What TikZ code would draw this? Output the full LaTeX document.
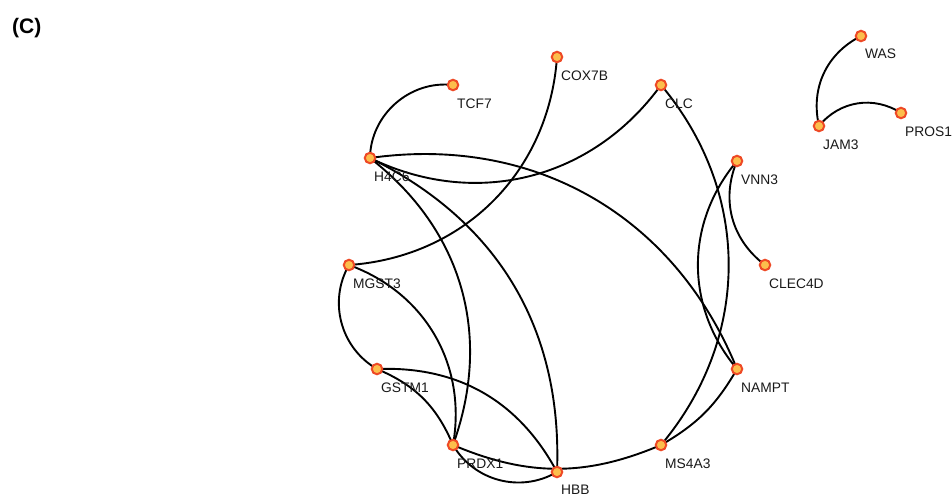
\documentclass[tikz,border=0pt]{standalone}
\usepackage{fontspec}
\setmainfont{Liberation Sans}
\usetikzlibrary{calc,backgrounds}
\definecolor{nodefill}{HTML}{FCBE4C}
\definecolor{noderim}{HTML}{EE4A26}
\tikzset{
  gene/.style={circle, fill=nodefill, draw=noderim, line width=2pt, minimum size=10.5pt, inner sep=0pt},
  lab/.style={anchor=base west, inner sep=0pt, font=\fontsize{13.8}{16}\selectfont, text=black!90},
  edge/.style={draw=black, line width=1.9pt},
}
\begin{document}
\begin{tikzpicture}[x=1pt,y=-1pt]
\useasboundingbox (0,0) rectangle (952,495);
\node[anchor=base west, inner sep=0pt, font=\fontsize{21}{24}\selectfont\bfseries] (title) at (12,34) {(C)};
% gene nodes
\node[gene] (TCF7) at (453,85) {};
\node[gene] (COX7B) at (557,57) {};
\node[gene] (CLC) at (661,85) {};
\node[gene] (H4C6) at (370,158) {};
\node[gene] (VNN3) at (737,161) {};
\node[gene] (MGST3) at (349,265) {};
\node[gene] (CLEC4D) at (765,265) {};
\node[gene] (GSTM1) at (377,369) {};
\node[gene] (NAMPT) at (737,369) {};
\node[gene] (PRDX1) at (453,445) {};
\node[gene] (MS4A3) at (661,445) {};
\node[gene] (HBB) at (557,472) {};
\node[gene] (WAS) at (861,36) {};
\node[gene] (JAM3) at (819,126) {};
\node[gene] (PROS1) at (901,113) {};
% labels
\foreach \n in {TCF7,COX7B,CLC,H4C6,VNN3,MGST3,CLEC4D,GSTM1,NAMPT,PRDX1,MS4A3,WAS,JAM3,PROS1}{
  \node[lab] (l\n) at ($(\n)+(4,23)$) {\n};
}
\node[lab] (lHBB) at ($(HBB)+(4,22)$) {HBB};
% edges
\begin{scope}[on background layer]
\draw[edge] (H4C6.center) to[bend left=48] (TCF7.center);
\draw[edge] (COX7B.center) to[bend left=41] (MGST3.center);
\draw[edge] (CLC.center) to[bend left=40] (H4C6.center);
\draw[edge] (H4C6.center) to[bend left=38] (NAMPT.center);
\draw[edge] (H4C6.center) to[bend left=36] (PRDX1.center);
\draw[edge] (H4C6.center) to[bend left=33] (HBB.center);
\draw[edge] (MGST3.center) to[bend right=45] (GSTM1.center);
\draw[edge] (MGST3.center) to[bend left=40] (PRDX1.center);
\draw[edge] (GSTM1.center) to[bend left=22] (PRDX1.center);
\draw[edge] (GSTM1.center) to[bend left=32] (HBB.center);
\draw[edge] (PRDX1.center) to[bend right=45] (HBB.center);
\draw[edge] (PRDX1.center) to[bend right=23] (MS4A3.center);
\draw[edge] (CLC.center) to[bend left=40] (MS4A3.center);
\draw[edge] (VNN3.center) to[bend right=40] (NAMPT.center);
\draw[edge] (VNN3.center) to[bend right=38] (CLEC4D.center);
\draw[edge] (MS4A3.center) to[bend right=15] (NAMPT.center);
\draw[edge] (WAS.center) to[bend right=38] (JAM3.center);
\draw[edge] (JAM3.center) to[bend left=42] (PROS1.center);
\end{scope}
\end{tikzpicture}
\end{document}
